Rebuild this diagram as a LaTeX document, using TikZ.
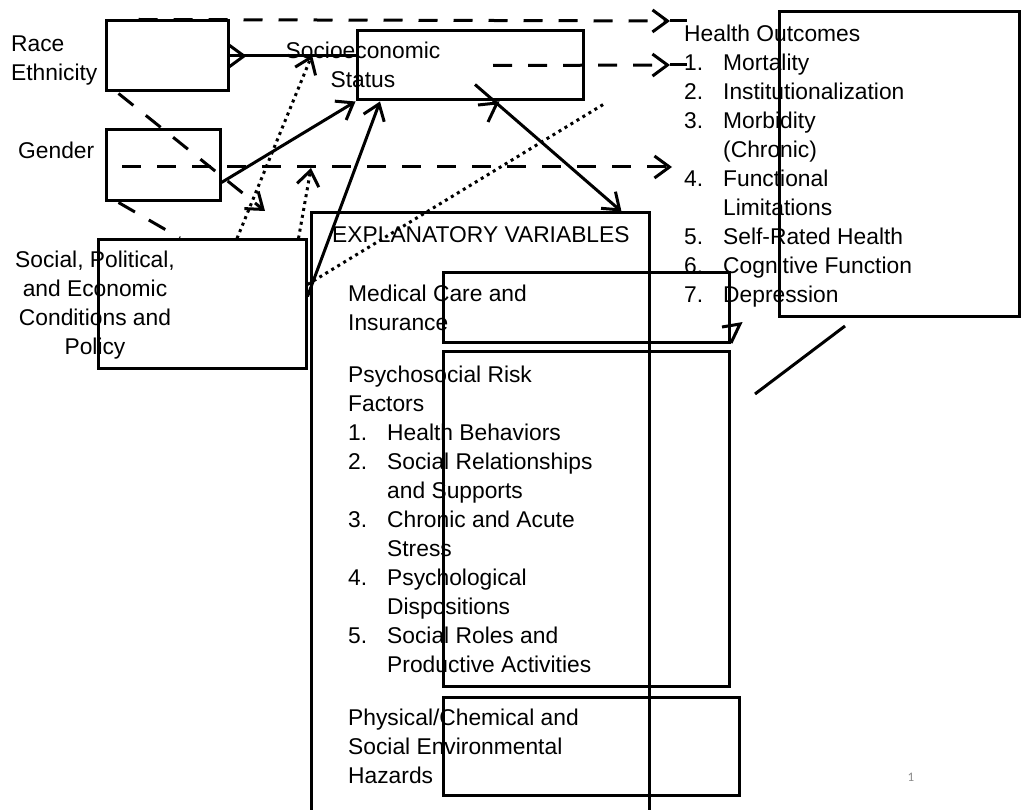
\documentclass[tikz,border=0pt]{standalone}
\usepackage{fontspec}
\setmainfont{Liberation Sans}
\newfontfamily\pagefont{Carlito}
\usetikzlibrary{arrows.meta}

\begin{document}
\begin{tikzpicture}[x=1pt,y=-1pt,line join=miter,
  box/.style={draw,line width=3pt,inner sep=0pt},
  % multi-line labels are placed by the baseline of their last line
  txt/.style={inner sep=0pt,anchor=base west,align=left,font=\fontsize{22.8}{29}\selectfont},
  ctxt/.style={inner sep=0pt,anchor=base,align=center,font=\fontsize{22.8}{29}\selectfont},
  plain/.style={line width=3pt},
  barb/.style={-{Straight Barb[length=15pt,width=22pt]}},
  dashline/.style={line width=3pt,dash pattern=on 19pt off 16pt},
  dotline/.style={line width=3pt,dash pattern=on 3pt off 4pt},
  tipmark/.style={line width=3pt}
]
\useasboundingbox (0,0) rectangle (1021,810);
\clip (0,0) rectangle (1021,810);

% ---------- boxes ----------
\node[box,minimum width=122pt,minimum height=70pt]  (race)   at (167,56) {};
\node[box,minimum width=114pt,minimum height=71pt]  (gender) at (163,165.5) {};
\node[box,minimum width=226pt,minimum height=69pt]  (ses)    at (470,65.5) {};
\node[box,minimum width=208pt,minimum height=129pt] (soc)    at (202,304.5) {};
\node[box,minimum width=338pt,minimum height=617pt] (expl)   at (480,521.5) {};
\node[box,minimum width=286pt,minimum height=70pt]  (med)    at (586,308) {};
\node[box,minimum width=286pt,minimum height=334pt] (psy)    at (586,519) {};
\node[box,minimum width=296pt,minimum height=98pt]  (phys)   at (591,746) {};
\node[box,minimum width=240.5pt,minimum height=305pt] (ho)   at (899.25,164.5) {};

% ---------- labels ----------
\node[txt]  (raceT)   at (11,80.5) {Race\\Ethnicity};
\node[txt]  (genderT) at (18,159) {Gender};
\node[ctxt] (sesT)    at (363,88) {Socioeconomic\\Status};
\node[ctxt] (socT)    at (95,355) {Social, Political,\\and Economic\\Conditions and\\Policy};
\node[txt]  (explT)   at (332,243) {EXPLANATORY VARIABLES};
\node[txt]  (medT)    at (348,330.5) {Medical Care and\\Insurance};
\node[txt]  (psyT)    at (348,672) {Psychosocial Risk\\Factors\\
  \makebox[39pt][l]{1.}Health Behaviors\\
  \makebox[39pt][l]{2.}Social Relationships\\
  \hspace*{39pt}and Supports\\
  \makebox[39pt][l]{3.}Chronic and Acute\\
  \hspace*{39pt}Stress\\
  \makebox[39pt][l]{4.}Psychological\\
  \hspace*{39pt}Dispositions\\
  \makebox[39pt][l]{5.}Social Roles and\\
  \hspace*{39pt}Productive Activities};
\node[txt]  (physT)   at (348,783.5) {Physical/Chemical and\\Social Environmental\\Hazards};
\node[txt]  (hoT)     at (684,303) {Health Outcomes\\
  \makebox[39pt][l]{1.}Mortality\\
  \makebox[39pt][l]{2.}Institutionalization\\
  \makebox[39pt][l]{3.}Morbidity\\
  \hspace*{39pt}(Chronic)\\
  \makebox[39pt][l]{4.}Functional\\
  \hspace*{39pt}Limitations\\
  \makebox[39pt][l]{5.}Self-Rated Health\\
  \makebox[39pt][l]{6.}Cognitive Function\\
  \makebox[39pt][l]{7.}Depression};
\node[inner sep=0pt,text=black!46,font=\pagefont\fontsize{13}{15}\selectfont] (pg) at (911,777) {1};

% ---------- free ends of connectors ----------
\coordinate (topTip)  at (670,21);
\coordinate (topEnd)  at (687,21);
\coordinate (sesTip)  at (670,65);
\coordinate (sesEnd)  at (687,65);
\coordinate (genTip)  at (672,167);
\coordinate (raceDn)  at (265,211);
\coordinate (genDn)   at (180,238);
\coordinate (dotA)    at (312,55);
\coordinate (dotB)    at (311,168);
\coordinate (dotC)    at (604,104);
\coordinate (diagA)   at (845,326);
\coordinate (diagB)   at (755,394);

% ---------- dashed connectors ----------
\draw[dashline,barb] ([xshift=34pt]race.north west) -- (topTip);
\draw[plain] (topTip) -- (topEnd);
\draw[dashline,barb] ([xshift=23pt]ses.center) -- (sesTip);
\draw[plain] (sesTip) -- (sesEnd);
\draw[dashline,barb] ([xshift=-41pt,yshift=-1.5pt]gender.center) -- (genTip);
\draw[dashline,barb] ([xshift=14pt,yshift=-1pt]race.south west) -- (raceDn);
\draw[dashline] ([xshift=14pt]gender.south west) -- (genDn);

% ---------- solid connectors ----------
\draw[plain] (race.east) -- (race.east -| ses.west);
\draw[plain,barb] (race.east) -- ++(17,0);
\draw[plain,barb] ([yshift=-17pt]gender.east) -- (ses.south west);
\draw[plain,barb] ([yshift=8pt]soc.east) -- ([xshift=-90pt]ses.south);
\draw[plain,barb] ([xshift=5pt,yshift=-19pt]ses.center) -- ([xshift=-29pt]expl.north east);

% ---------- dotted connectors ----------
\draw[dotline,barb] ([xshift=35pt]soc.north) -- (dotA);
\draw[dotline,barb] ([xshift=-9pt]soc.north east) -- (dotB);
\draw[dotline] ([yshift=20pt]soc.east) -- (dotC);

% ---------- loose arrow heads and stroke ----------
\draw[tipmark] (478,105) -- (497,103) -- (488,122);
\draw[tipmark] (722,327) -- (740,324) -- (731,343);
\draw[plain] (diagA) -- (diagB);
\end{tikzpicture}
\end{document}
